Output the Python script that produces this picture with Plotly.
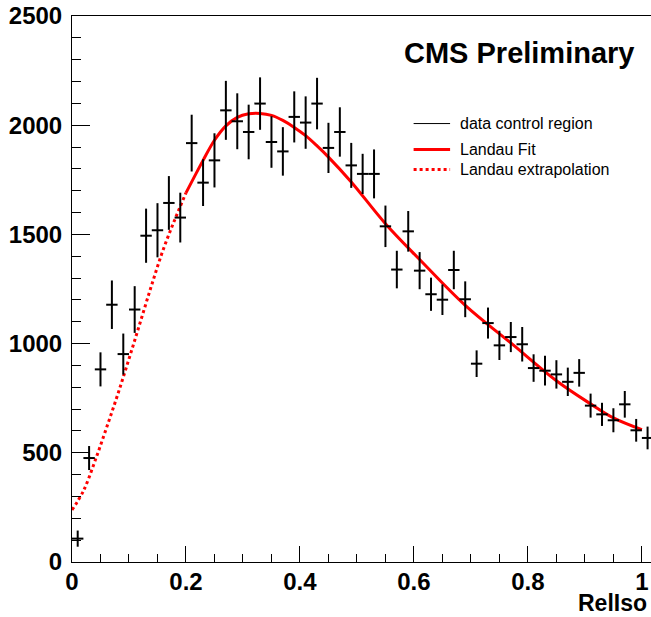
import plotly.graph_objects as go

# ---- data ----
bin_centers = [0.01, 0.03, 0.05, 0.07, 0.09, 0.11, 0.13, 0.15, 0.17, 0.19,
               0.21, 0.23, 0.25, 0.27, 0.29, 0.31, 0.33, 0.35, 0.37, 0.39,
               0.41, 0.43, 0.45, 0.47, 0.49, 0.51, 0.53, 0.55, 0.57, 0.59,
               0.61, 0.63, 0.65, 0.67, 0.69, 0.71, 0.73, 0.75, 0.77, 0.79,
               0.81, 0.83, 0.85, 0.87, 0.89, 0.91, 0.93, 0.95, 0.97, 0.99, 1.01]
bin_halfwidth = [0.01] * len(bin_centers)
counts = [107, 476, 882, 1178, 952, 1156, 1494, 1519, 1644, 1577,
          1918, 1737, 1839, 2068, 2018, 1969, 2099, 1923, 1880, 2038,
          2012, 2099, 1896, 1969, 1816, 1777, 1777, 1537, 1339, 1514,
          1334, 1226, 1201, 1337, 1203, 908, 1094, 992, 1030, 997,
          888, 876, 859, 825, 866, 716, 676, 649, 722, 603, 568]
errors = [37, 55, 78, 111, 94, 107, 124, 124, 123, 114,
          130, 107, 124, 135, 128, 125, 120, 118, 111, 117,
          120, 118, 115, 113, 103, 92, 112, 95, 86, 93,
          85, 76, 70, 88, 82, 61, 71, 67, 69, 79,
          63, 68, 65, 65, 63, 55, 53, 55, 61, 52, 52]

fit_x = [0.20, 0.23, 0.25, 0.27, 0.29, 0.31, 0.33, 0.35, 0.37, 0.39, 0.41,
         0.43, 0.45, 0.49, 0.55, 0.61, 0.69, 0.77, 0.85, 0.91, 0.95, 1.00]
fit_y = [1690, 1839, 1931, 1997, 2036, 2052, 2054, 2045, 2022, 1990, 1952,
         1905, 1854, 1740, 1549, 1385, 1175, 1003, 830, 724, 660, 606]

extrap_x = [0.00, 0.02, 0.04, 0.06, 0.08, 0.10, 0.12, 0.14, 0.16, 0.18, 0.20]
extrap_y = [238, 325, 460, 610, 765, 930, 1100, 1270, 1430, 1565, 1690]

legend_labels = ["data control region", "Landau Fit", "Landau extrapolation"]
x_title = "RelIso"
header = "CMS Preliminary"

FONT = "Liberation Sans, Arial, sans-serif"
RED = "#ff0000"

fig = go.Figure()

fig.add_trace(go.Scatter(
    x=extrap_x, y=extrap_y, mode="lines", line_shape="spline",
    line=dict(color=RED, width=3, dash="dot"), showlegend=False,
    hoverinfo="skip"))
fig.add_trace(go.Scatter(
    x=fit_x, y=fit_y, mode="lines", line_shape="spline",
    line=dict(color=RED, width=3), showlegend=False, hoverinfo="skip"))
fig.add_trace(go.Scatter(
    x=bin_centers, y=counts, mode="markers",
    marker=dict(size=4, color="rgba(0,0,0,0)", line=dict(width=0)),
    error_x=dict(type="data", array=bin_halfwidth, width=0, thickness=2, color="black"),
    error_y=dict(type="data", array=errors, width=0, thickness=2, color="black"),
    showlegend=False))

# manual ROOT-style legend
legend_rows = [0.803, 0.7553, 0.7187]
legend_styles = [dict(color="black", width=1),
                 dict(color=RED, width=3),
                 dict(color=RED, width=3, dash="dot")]
shapes = []
annotations = []
for lab, yy, st in zip(legend_labels, legend_rows, legend_styles):
    shapes.append(dict(type="line", xref="paper", yref="paper",
                       x0=0.590, x1=0.653, y0=yy, y1=yy, line=st))
    annotations.append(dict(text=lab, xref="paper", yref="paper", x=0.667, y=yy,
                            xanchor="left", yanchor="middle", showarrow=False,
                            font=dict(family=FONT, size=16, color="black")))

annotations.append(dict(text=header, xref="paper", yref="paper", x=0.974, y=0.9317,
                        xanchor="right", yanchor="middle", showarrow=False,
                        font=dict(family=FONT, size=29, color="black", weight="bold")))
annotations.append(dict(text=x_title, xref="paper", yref="paper", x=1.0, y=0,
                        xanchor="right", yanchor="bottom", xshift=-3, yshift=-55,
                        borderpad=0, showarrow=False,
                        font=dict(family=FONT, size=23, color="black", weight="bold")))

tickfont = dict(family=FONT, size=24, color="black", weight="bold")

fig.update_layout(
    width=651, height=617,
    margin=dict(l=72, r=0, t=16, b=55, pad=0),
    paper_bgcolor="white", plot_bgcolor="white",
    showlegend=False,
    shapes=shapes, annotations=annotations,
    xaxis=dict(range=[0, 1.016], showgrid=False, zeroline=False,
               showline=True, linecolor="black", linewidth=1, mirror=True,
               ticks="inside", ticklen=16, tickwidth=1, tickcolor="black",
               tick0=0, dtick=0.2, tickfont=tickfont, automargin=False,
               ticklabelstandoff=-2,
               minor=dict(ticks="inside", ticklen=8, tickcolor="black", dtick=0.05, showgrid=False)),
    yaxis=dict(range=[0, 2500], showgrid=False, zeroline=False,
               showline=True, linecolor="black", linewidth=1,
               ticks="inside", ticklen=18, tickwidth=1, tickcolor="black",
               tick0=0, dtick=500, tickfont=tickfont, ticklabelstandoff=4, automargin=False,
               minor=dict(ticks="inside", ticklen=9, tickcolor="black", dtick=100, showgrid=False)),
)

fig.write_html("out.html", config={"displayModeBar": False},
               post_script="document.body.style.margin='0';document.body.style.overflow='hidden';")
